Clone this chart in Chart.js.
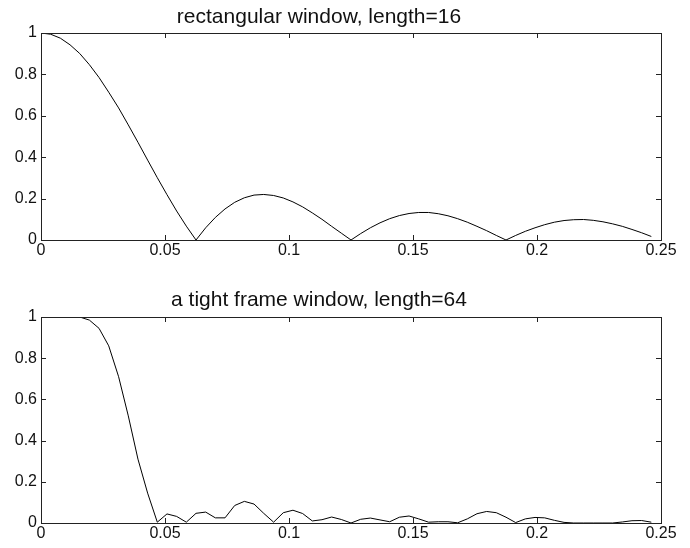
<!DOCTYPE html>
<html>
<head>
<meta charset="utf-8">
<script src="https://cdn.jsdelivr.net/npm/chart.js"></script>
<style>
  body { margin: 0; background: #fff; }
  #wrap { width: 690px; height: 548px; }
  canvas { display: block; }
</style>
</head>
<body>
<div id="wrap">
  <canvas id="top" width="690" height="270"></canvas>
  <canvas id="bottom" width="690" height="278"></canvas>
</div>
<script>
// normalised frequency grid (~1/256 steps)
const freq = [
  0.0000, 0.0039, 0.0078, 0.0117, 0.0156, 0.0195, 0.0234, 0.0273,
  0.0313, 0.0352, 0.0391, 0.0430, 0.0469, 0.0508, 0.0547, 0.0586,
  0.0625, 0.0664, 0.0703, 0.0742, 0.0781, 0.0820, 0.0859, 0.0898,
  0.0938, 0.0977, 0.1016, 0.1055, 0.1094, 0.1133, 0.1172, 0.1211,
  0.1250, 0.1289, 0.1328, 0.1367, 0.1406, 0.1445, 0.1484, 0.1523,
  0.1563, 0.1602, 0.1641, 0.1680, 0.1719, 0.1758, 0.1797, 0.1836,
  0.1875, 0.1914, 0.1953, 0.1992, 0.2031, 0.2070, 0.2109, 0.2148,
  0.2188, 0.2227, 0.2266, 0.2305, 0.2344, 0.2383, 0.2422, 0.2461
];

// rectangular window, length=16
const rectMag = [
  1.000, 0.994, 0.975, 0.943, 0.901, 0.847, 0.785, 0.714,
  0.638, 0.556, 0.472, 0.386, 0.301, 0.219, 0.140, 0.067,
  0.000, 0.059, 0.109, 0.150, 0.182, 0.204, 0.217, 0.220,
  0.215, 0.203, 0.184, 0.160, 0.131, 0.100, 0.066, 0.033,
  0.000, 0.031, 0.059, 0.083, 0.103, 0.118, 0.128, 0.133,
  0.133, 0.127, 0.117, 0.103, 0.086, 0.066, 0.045, 0.022,
  0.000, 0.022, 0.042, 0.059, 0.074, 0.086, 0.094, 0.098,
  0.099, 0.095, 0.088, 0.078, 0.066, 0.051, 0.035, 0.017
];

// a tight frame window, length=64
const tightMag = [
  1.000, 1.000, 1.000, 1.000, 1.000, 0.985, 0.945, 0.860,
  0.710, 0.520, 0.310, 0.145, 0.004, 0.044, 0.032, 0.004,
  0.047, 0.053, 0.025, 0.025, 0.085, 0.105, 0.092, 0.047,
  0.004, 0.050, 0.062, 0.046, 0.010, 0.016, 0.029, 0.017,
  0.000, 0.018, 0.024, 0.015, 0.006, 0.028, 0.034, 0.020,
  0.004, 0.006, 0.006, 0.001, 0.020, 0.045, 0.056, 0.050,
  0.028, 0.002, 0.020, 0.027, 0.025, 0.013, 0.003, 0.000,
  0.000, 0.000, 0.000, 0.000, 0.005, 0.011, 0.012, 0.004
];

const xTicks = [0, 0.05, 0.1, 0.15, 0.2, 0.25];
const xTickLabels = ['0', '0.05', '0.1', '0.15', '0.2', '0.25'];
const yTicks = [0, 0.2, 0.4, 0.6, 0.8, 1];
const yTickLabels = ['0', '0.2', '0.4', '0.6', '0.8', '1'];

const FONT = '"Liberation Sans", Arial, Helvetica, sans-serif';

// box round the axes, inward ticks and the title
const framePlugin = {
  id: 'frame',
  afterDraw(chart, args, opts) {
    const { ctx, chartArea: a, scales } = chart;
    ctx.save();
    ctx.strokeStyle = '#222';
    ctx.lineWidth = 1;
    ctx.strokeRect(Math.round(a.left) + 0.5, Math.round(a.top) + 0.5,
      Math.round(a.right - a.left), Math.round(a.bottom - a.top));
    ctx.beginPath();
    xTicks.forEach(v => {
      const px = Math.round(scales.x.getPixelForValue(v)) + 0.5;
      ctx.moveTo(px, a.top); ctx.lineTo(px, a.top + 5);
      ctx.moveTo(px, a.bottom); ctx.lineTo(px, a.bottom - 5);
    });
    yTicks.forEach(v => {
      const py = Math.round(scales.y.getPixelForValue(v)) + 0.5;
      ctx.moveTo(a.left, py); ctx.lineTo(a.left + 5, py);
      ctx.moveTo(a.right, py); ctx.lineTo(a.right - 5, py);
    });
    ctx.stroke();
    ctx.fillStyle = '#111';
    ctx.font = '21px ' + FONT;
    ctx.textAlign = 'center';
    ctx.textBaseline = 'middle';
    ctx.fillText(opts.text, opts.x, opts.y);
    ctx.restore();
  }
};

function makeChart(id, mag, title, topPad, xAxisH, titleY) {
  return new Chart(document.getElementById(id), {
    type: 'scatter',
    data: {
      datasets: [{
        data: freq.map((f, i) => ({ x: f, y: mag[i] })),
        showLine: true,
        borderColor: '#000',
        borderWidth: 1,
        pointRadius: 0,
        tension: 0
      }]
    },
    options: {
      responsive: false,
      animation: false,
      layout: { padding: { top: topPad, right: 29, left: 0, bottom: 0 } },
      plugins: {
        legend: { display: false },
        tooltip: { enabled: false },
        frame: { text: title, x: 319, y: titleY }
      },
      scales: {
        x: {
          type: 'linear',
          min: 0, max: 0.25,
          grid: { display: false, drawTicks: false },
          border: { display: false },
          afterBuildTicks: s => { s.ticks = xTicks.map(v => ({ value: v })); },
          afterFit: s => { s.height = xAxisH; },
          ticks: {
            padding: 1,
            color: '#111',
            font: { family: FONT, size: 16 },
            maxRotation: 0,
            callback: (v, i) => xTickLabels[i]
          }
        },
        y: {
          min: 0, max: 1,
          grid: { display: false, drawTicks: false },
          border: { display: false },
          afterBuildTicks: s => { s.ticks = yTicks.map(v => ({ value: v })); },
          afterFit: s => { s.width = 41; },
          ticks: {
            padding: 4,
            color: '#111',
            font: { family: FONT, size: 16 },
            callback: (v, i) => yTickLabels[i]
          }
        }
      }
    },
    plugins: [framePlugin]
  });
}

makeChart('top', rectMag, 'rectangular window, length=16', 33, 30, 17);
makeChart('bottom', tightMag, 'a tight frame window, length=64', 47, 25, 30);
</script>
</body>
</html>
